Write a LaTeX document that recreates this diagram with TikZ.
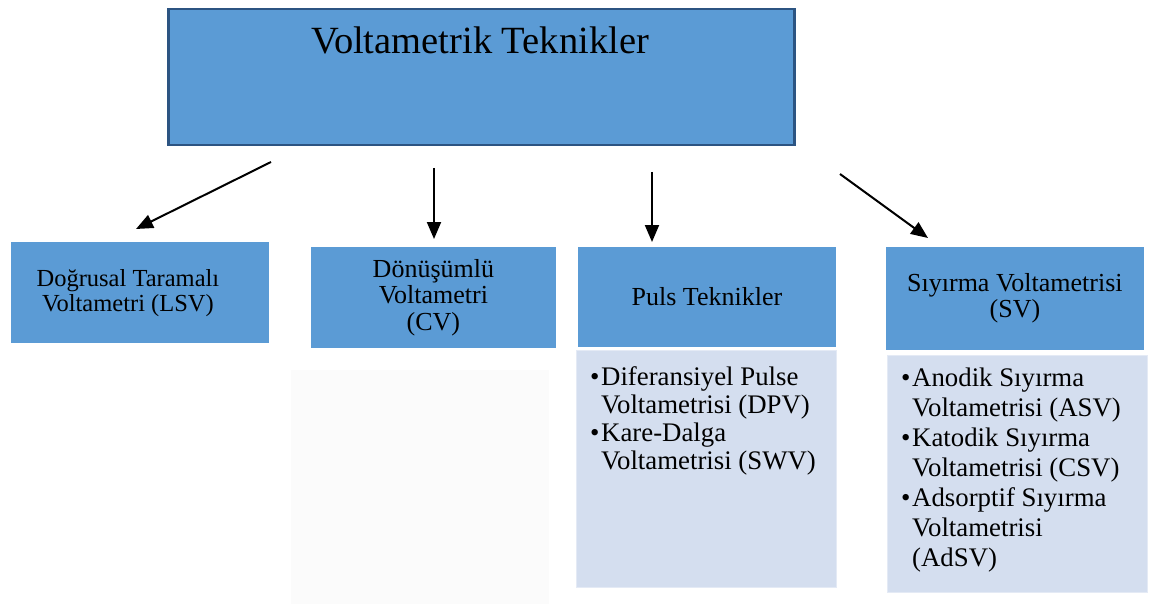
\documentclass[tikz,border=0pt]{standalone}
\usepackage{fontspec}
\setmainfont{Liberation Serif}
\usetikzlibrary{arrows.meta}
\definecolor{mblue}{RGB}{91,155,213}
\definecolor{dblue}{RGB}{44,84,130}
\definecolor{lblue}{RGB}{212,222,239}
\definecolor{lbord}{RGB}{228,234,245}
\definecolor{ghost}{RGB}{251,251,251}
\newcommand{\bl}{\makebox[11pt][l]{•}}
\begin{document}
\begin{tikzpicture}[x=1pt,y=-1pt,
  topbox/.style={fill=mblue, draw=dblue, line width=2.5pt, inner sep=0pt, anchor=north west},
  midbox/.style={fill=mblue, draw=white, line width=0.8pt, inner sep=0pt, anchor=north west,
    align=center, font=\fontsize{26}{26.5}\selectfont},
  cbox/.style={fill=lblue, draw=lbord, line width=1.2pt, inner sep=0pt, anchor=north west},
  gbox/.style={fill=ghost, draw=none, inner sep=0pt, anchor=north west},
  ctext/.style={anchor=base west, inner sep=0pt, align=left},
  arr/.style={line width=2pt, -{Triangle[length=17pt,width=14pt]}}
]
\useasboundingbox (0,0) rectangle (1156,604);

% top
\node[topbox, minimum width=626pt, minimum height=136pt] (top) at (167,8) {};
\node[anchor=base, inner sep=0pt, font=\fontsize{38.5}{40}\selectfont] (title) at (480,54) {Voltametrik Teknikler};

% second row
\node[midbox, minimum width=259pt, minimum height=102pt] (lsv) at (10,241) {};
\node[align=center, inner sep=0pt, font=\fontsize{24.5}{25}\selectfont] (lsvt) at ([xshift=-12pt,yshift=-1pt]lsv.center) {Doğrusal Taramalı\\Voltametri (LSV)};
\node[midbox, minimum width=246pt, minimum height=102pt] (cv) at (310,246) {Dönüşümlü\\Voltametri\\(CV)};
\node[midbox, minimum width=259pt, minimum height=101pt] (puls) at (577,246) {Puls Teknikler};
\node[midbox, minimum width=259pt, minimum height=104pt] (sv) at (885,246) {Sıyırma Voltametrisi\\(SV)};

% content boxes
\node[gbox, minimum width=258pt, minimum height=234pt] (cvc) at (291,370) {};
\node[cbox, minimum width=260pt, minimum height=237pt] (pulsc) at (576,350) {};
\node[cbox, minimum width=260pt, minimum height=237pt] (svc) at (887,355) {};

\node[ctext, font=\fontsize{26.8}{28}\selectfont] (pulst) at (590,385) {%
\begin{tabular}[t]{@{}l@{}l@{}}
\bl&Diferansiyel Pulse\\
 &Voltametrisi (DPV)\\
\bl&Kare-Dalga\\
 &Voltametrisi (SWV)
\end{tabular}};

\node[ctext, font=\fontsize{26.8}{30}\selectfont] (svt) at (901,386) {%
\begin{tabular}[t]{@{}l@{}l@{}}
\bl&Anodik Sıyırma\\
 &Voltametrisi (ASV)\\
\bl&Katodik Sıyırma\\
 &Voltametrisi (CSV)\\
\bl&Adsorptif Sıyırma\\
 &Voltametrisi\\
 &(AdSV)
\end{tabular}};

% arrows
\coordinate (a1s) at (271,162); \coordinate (a1e) at (136,229);
\coordinate (a2s) at (434,168); \coordinate (a2e) at (434,239);
\coordinate (a3s) at (652,172); \coordinate (a3e) at (652,242);
\coordinate (a4s) at (840,174); \coordinate (a4e) at (928,238);
\draw[arr] (a1s) -- (a1e);
\draw[arr] (a2s) -- (a2e);
\draw[arr] (a3s) -- (a3e);
\draw[arr] (a4s) -- (a4e);
\end{tikzpicture}
\end{document}
